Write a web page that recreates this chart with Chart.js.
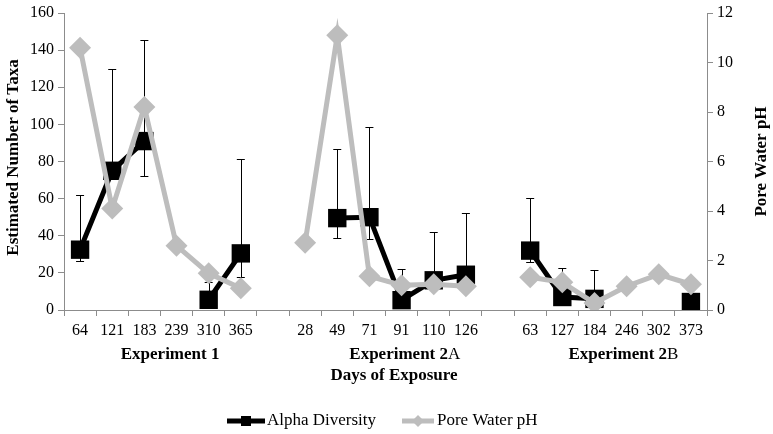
<!DOCTYPE html>
<html>
<head>
<meta charset="utf-8">
<script src="https://cdn.jsdelivr.net/npm/chart.js@4.4.0/dist/chart.umd.min.js"></script>
<style>
  body { margin: 0; background: #fff; }
  #wrap { width: 773px; height: 434px; }
</style>
</head>
<body>
<div id="wrap"><canvas id="taxaChart"></canvas></div>
<script>
// Days of exposure, blank slot between experiments
const days = ['64', '121', '183', '239', '310', '365', '',
              '28', '49', '71', '91', '110', '126', '',
              '63', '127', '184', '246', '302', '373'];

// Alpha diversity (left axis) with error bar ends
const alphaDiversity = [32.5, 75, 91, null, 5.5, 30.5, null,
                        null, 49.5, 50, 5.3, 16, 19, null,
                        32, 7, 6, null, null, 4.3];
const alphaErrHigh = [62, 130, 145.5, null, 15, 81.5, null,
                      null, 87, 98.5, 22, 42, 52, null,
                      60.5, 22.4, 21.8, null, null, null];
const alphaErrLow = [26.5, null, 72, null, null, 18, null,
                     null, 39, 38, null, null, null, null,
                     25.8, null, null, null, null, null];

// Pore water pH (right axis)
const poreWaterPH = [10.6, 4.1, 8.2, 2.6, 1.48, 0.88, null,
                     2.72, 11.1, 1.36, 1.0, 1.04, 0.96, null,
                     1.32, 1.12, 0.28, 0.96, 1.44, 1.04];

const groupNames = ['Experiment 1', 'Experiment 2', 'Experiment 2'];
const groupSuffix = ['', 'A', 'B'];

const serif = '"Liberation Serif", "Times New Roman", serif';
const grey = '#bdbdbd';
const axisGrey = '#8c8c8c';

const extras = {
    id: 'extras',
    beforeDatasetsDraw(chart) {
        // error bars
        const ctx = chart.ctx, x = chart.scales.x, y = chart.scales.y;
        ctx.save();
        ctx.strokeStyle = '#000';
        ctx.lineWidth = 1;
        alphaDiversity.forEach((v, i) => {
            if (v === null) return;
            const px = x.getPixelForValue(i);
            [alphaErrHigh[i], alphaErrLow[i]].forEach(e => {
                if (e === null) return;
                const py = Math.round(y.getPixelForValue(e)) + 0.5;
                ctx.beginPath();
                ctx.moveTo(Math.round(px) + 0.5, y.getPixelForValue(v));
                ctx.lineTo(Math.round(px) + 0.5, py);
                ctx.moveTo(px - 4, py);
                ctx.lineTo(px + 4, py);
                ctx.stroke();
            });
        });
        ctx.restore();
    },
    afterDraw(chart) {
        const ctx = chart.ctx, area = chart.chartArea, x = chart.scales.x;
        const midY = (area.top + area.bottom) / 2;
        ctx.save();
        ctx.fillStyle = '#000';
        ctx.textBaseline = 'middle';
        ctx.textAlign = 'center';

        // axis titles
        ctx.font = 'bold 17px ' + serif;
        ctx.save();
        ctx.translate(14, midY - 4);
        ctx.rotate(-Math.PI / 2);
        ctx.fillText('Estimated Number of Taxa', 0, 0);
        ctx.restore();
        ctx.save();
        ctx.translate(762, midY);
        ctx.rotate(-Math.PI / 2);
        ctx.fillText('Pore Water pH', 0, 0);
        ctx.restore();

        // group labels
        const labelAt = [2.8, 10.1, 16.9];
        ctx.textAlign = 'left';
        groupNames.forEach((name, i) => {
            ctx.font = 'bold 17px ' + serif;
            const w1 = ctx.measureText(name).width;
            ctx.font = '17px ' + serif;
            const w2 = ctx.measureText(groupSuffix[i]).width;
            const left = x.getPixelForValue(labelAt[i]) - (w1 + w2) / 2;
            ctx.font = 'bold 17px ' + serif;
            ctx.fillText(name, left, 355);
            ctx.font = '17px ' + serif;
            ctx.fillText(groupSuffix[i], left + w1, 355);
        });
        ctx.textAlign = 'center';
        ctx.font = 'bold 17px ' + serif;
        ctx.fillText('Days of Exposure', 394, 376);

        // legend
        const ly = 421;
        ctx.lineWidth = 5;
        ctx.strokeStyle = '#000';
        ctx.beginPath(); ctx.moveTo(227, ly); ctx.lineTo(265, ly); ctx.stroke();
        ctx.fillRect(241, ly - 5, 10, 10);
        ctx.strokeStyle = grey;
        ctx.fillStyle = grey;
        ctx.beginPath(); ctx.moveTo(402, ly); ctx.lineTo(434, ly); ctx.stroke();
        ctx.beginPath();
        ctx.moveTo(418, ly - 6); ctx.lineTo(424, ly); ctx.lineTo(418, ly + 6); ctx.lineTo(412, ly);
        ctx.closePath(); ctx.fill();
        ctx.fillStyle = '#000';
        ctx.textAlign = 'left';
        ctx.font = '17px ' + serif;
        ctx.fillText('Alpha Diversity', 267, ly);
        ctx.fillText('Pore Water pH', 437, ly);
        ctx.restore();
    }
};

new Chart(document.getElementById('taxaChart'), {
    type: 'line',
    data: {
        labels: days,
        datasets: [{
            label: 'Alpha Diversity',
            data: alphaDiversity,
            yAxisID: 'y',
            borderColor: '#000',
            backgroundColor: '#000',
            borderWidth: 5,
            pointStyle: 'rect',
            pointRadius: 13,
            pointBorderWidth: 0,
            spanGaps: false,
            order: 2
        }, {
            label: 'Pore Water pH',
            data: poreWaterPH,
            yAxisID: 'y1',
            borderColor: grey,
            backgroundColor: grey,
            borderWidth: 5,
            pointStyle: 'rectRot',
            pointRadius: 11,
            pointBorderWidth: 0,
            spanGaps: false,
            order: 1
        }]
    },
    options: {
        responsive: true,
        maintainAspectRatio: false,
        animation: false,
        layout: { padding: { top: 10 } },
        plugins: { legend: { display: false }, tooltip: { enabled: false } },
        scales: {
            x: {
                offset: true,
                grid: { drawOnChartArea: false, offset: true, tickLength: 6, color: axisGrey },
                border: { color: axisGrey },
                ticks: { color: '#000', font: { family: serif, size: 16 }, autoSkip: false, maxRotation: 0, padding: 5 },
                afterFit(s) { s.height = 124; }
            },
            y: {
                position: 'left',
                min: 0, max: 160,
                grid: { drawOnChartArea: false, tickLength: 6, color: axisGrey },
                border: { color: axisGrey },
                ticks: { stepSize: 20, color: '#000', font: { family: serif, size: 16 }, padding: 4 },
                afterFit(s) { s.width = 64; s.paddingTop = 0; s.paddingBottom = 0; }
            },
            y1: {
                position: 'right',
                min: 0, max: 12,
                grid: { drawOnChartArea: false, tickLength: 6, color: axisGrey },
                border: { color: axisGrey },
                ticks: { stepSize: 2, color: '#000', font: { family: serif, size: 16 }, padding: 4 },
                afterFit(s) { s.width = 66; s.paddingTop = 0; s.paddingBottom = 0; }
            }
        }
    },
    plugins: [extras]
});
</script>
</body>
</html>
